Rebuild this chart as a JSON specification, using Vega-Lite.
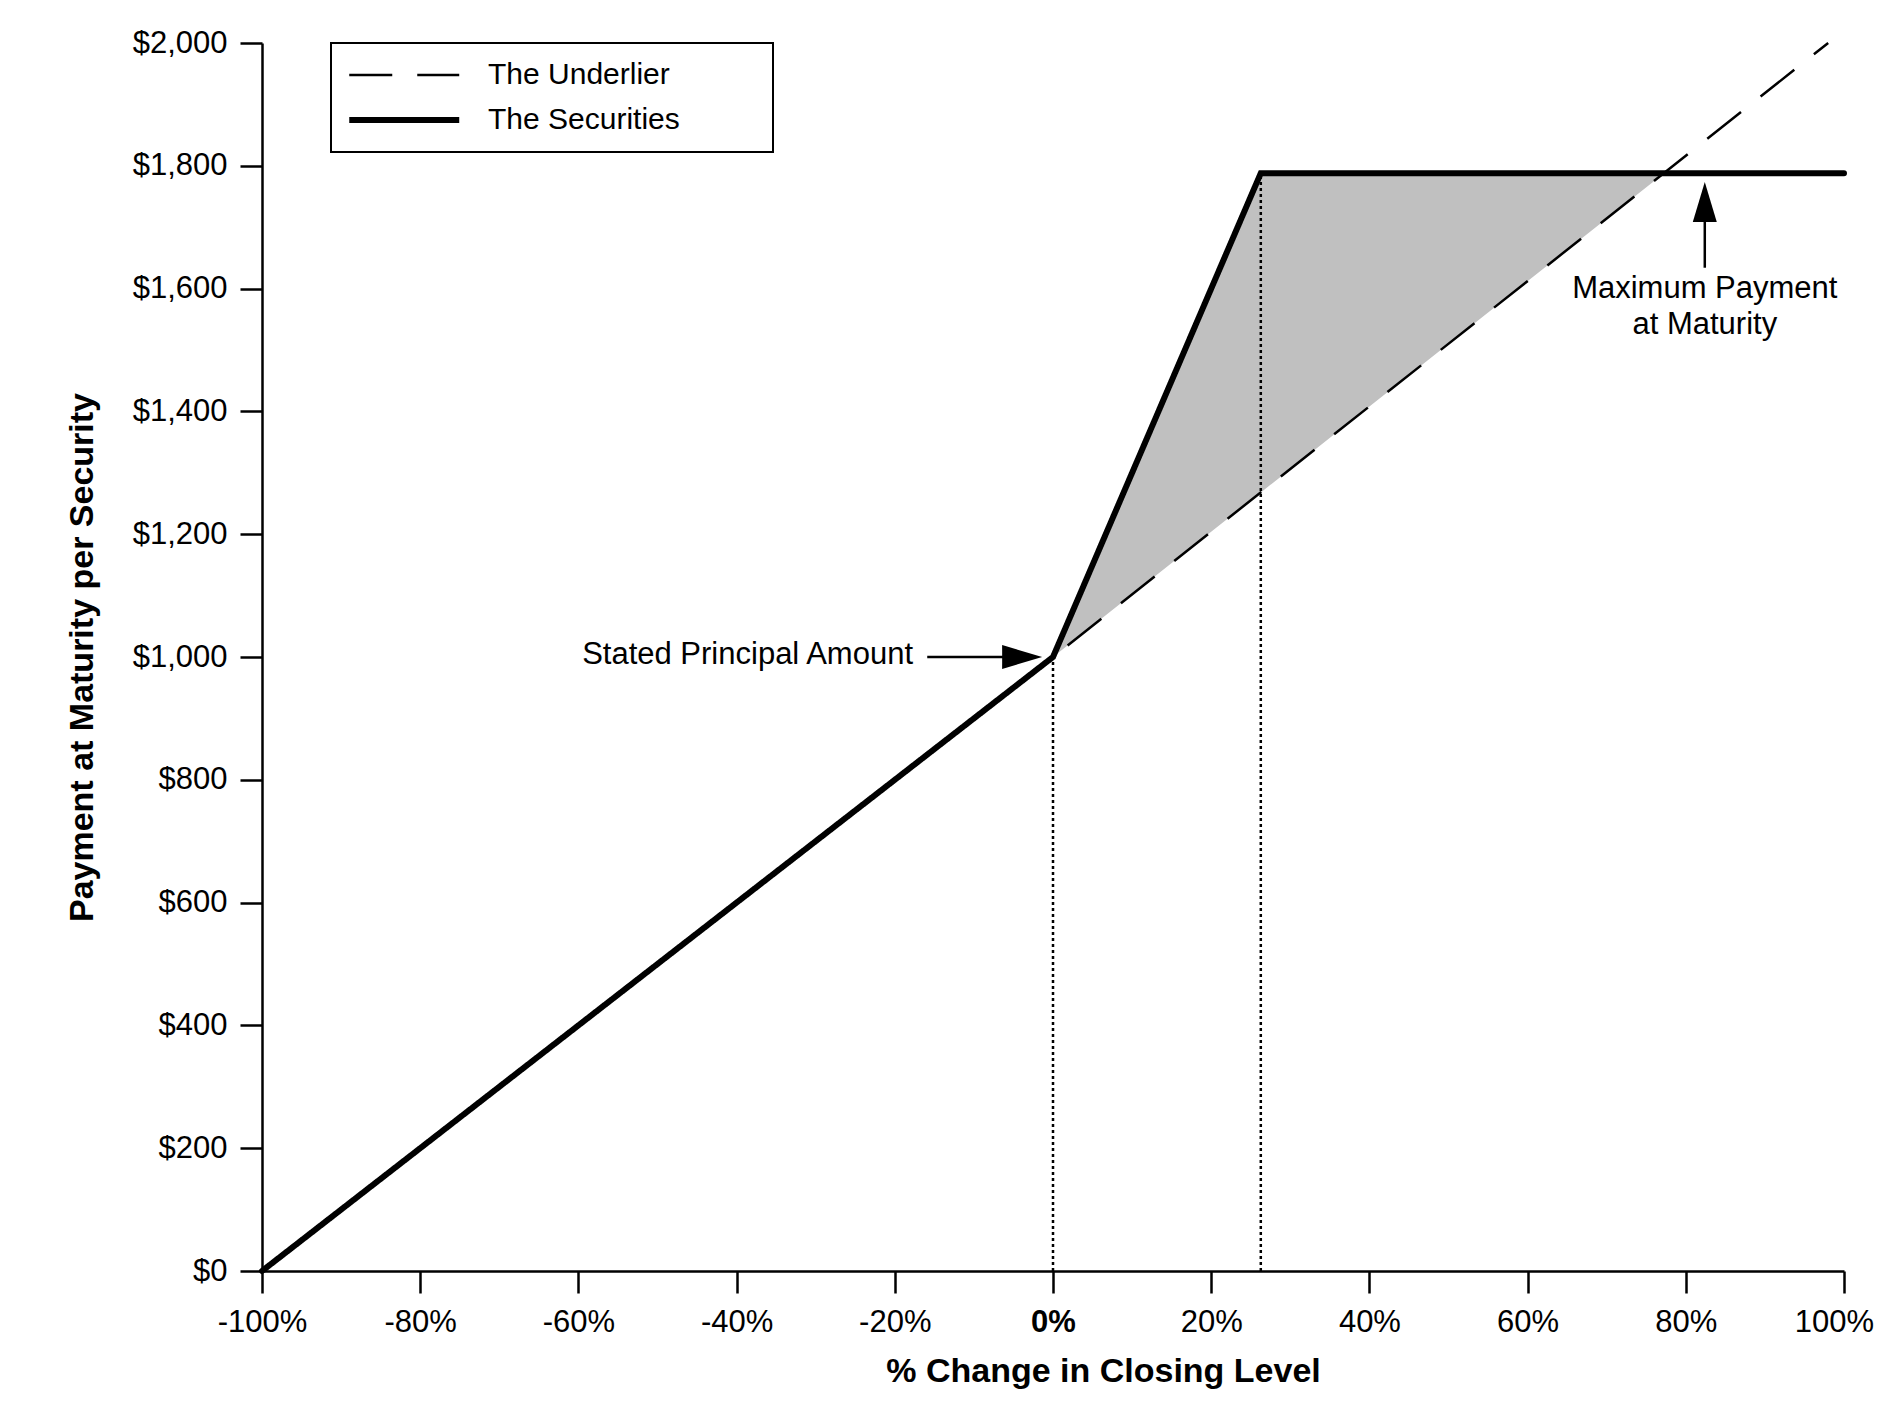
{
  "$schema": "https://vega.github.io/schema/vega-lite/v6.json",
  "width": 1582,
  "height": 1228,
  "autosize": {"type": "none"},
  "padding": {"left": 262, "top": 43, "right": 33, "bottom": 145},
  "background": "white",
  "config": {
    "font": "Liberation Sans",
    "view": {"stroke": null}
  },
  "datasets": {
    "lines": [
      {"series": "The Underlier", "pct": -100, "pay": 0},
      {"series": "The Underlier", "pct": 0, "pay": 1000},
      {"series": "The Underlier", "pct": 98, "pay": 2000},
      {"series": "The Securities", "pct": -100, "pay": 0},
      {"series": "The Securities", "pct": 0, "pay": 1000},
      {"series": "The Securities", "pct": 26.27, "pay": 1788},
      {"series": "The Securities", "pct": 100, "pay": 1788}
    ],
    "shade": [
      {"pct": 0, "top": 1000, "base": 1000},
      {"pct": 26.27, "top": 1788, "base": 1268},
      {"pct": 77.25, "top": 1788, "base": 1788}
    ],
    "guides": [
      {"pct": 0, "top": 1000, "bottom": 0},
      {"pct": 26.27, "top": 1788, "bottom": 0}
    ],
    "arrows": [
      {"pct": -15.9, "pct2": -5, "pay": 1000, "pay2": 1000},
      {"pct": 82.4, "pct2": 82.4, "pay": 1634, "pay2": 1715}
    ],
    "heads": [
      {"pct": -3.9, "pay": 1000, "dir": "right"},
      {"pct": 82.4, "pay": 1741, "dir": "up"}
    ],
    "notes": [
      {"pct": -17.7, "pay": 1004, "label": "Stated Principal Amount", "side": "right"},
      {"pct": 82.4, "pay": 1599, "label": "Maximum Payment", "side": "center"},
      {"pct": 82.4, "pay": 1540, "label": "at Maturity", "side": "center"}
    ]
  },
  "layer": [
    {
      "data": {"name": "shade"},
      "mark": {"type": "area", "color": "#c0c0c0", "opacity": 1},
      "encoding": {
        "x": {
          "field": "pct",
          "type": "quantitative",
          "scale": {"domain": [-100, 100], "nice": false, "zero": false},
          "axis": {
            "title": "% Change in Closing Level",
            "values": [-100, -80, -60, -40, -20, 0, 20, 40, 60, 80, 100],
            "labelExpr": "datum.value + '%'",
            "grid": false,
            "domainColor": "black",
            "domainWidth": 2.5,
            "tickColor": "black",
            "tickWidth": 2.5,
            "tickSize": 22,
            "labelFontSize": 31,
            "labelColor": "black",
            "labelPadding": 14,
            "labelFlush": false,
            "labelOverlap": false,
            "labelFontWeight": {"condition": {"test": "datum.value === 0", "value": "bold"}, "value": "normal"},
            "labelOffset": {"condition": {"test": "datum.value === 100", "value": -10}, "value": 0},
            "titleFontSize": 34,
            "titleFontWeight": "bold",
            "titleColor": "black",
            "titleX": 841,
            "titleY": 100,
            "titleAlign": "center",
            "titleBaseline": "middle"
          }
        },
        "y": {
          "field": "top",
          "type": "quantitative",
          "scale": {"domain": [0, 2000], "nice": false},
          "axis": {
            "title": "Payment at Maturity per Security",
            "values": [0, 200, 400, 600, 800, 1000, 1200, 1400, 1600, 1800, 2000],
            "format": "$,.0f",
            "grid": false,
            "domainColor": "black",
            "domainWidth": 2.5,
            "tickColor": "black",
            "tickWidth": 2.5,
            "tickSize": 22,
            "labelFontSize": 31,
            "labelColor": "black",
            "labelPadding": 13,
            "labelFlush": false,
            "labelOverlap": false,
            "titleFontSize": 34,
            "titleFontWeight": "bold",
            "titleColor": "black",
            "titleX": -180,
            "titleY": 614,
            "titleAngle": -90,
            "titleAlign": "center",
            "titleBaseline": "middle"
          }
        },
        "y2": {"field": "base"}
      }
    },
    {
      "data": {"name": "guides"},
      "mark": {"type": "rule", "color": "black", "strokeWidth": 2.5, "strokeDash": [3, 3]},
      "encoding": {
        "x": {"field": "pct", "type": "quantitative"},
        "y": {"field": "bottom", "type": "quantitative"},
        "y2": {"field": "top"}
      }
    },
    {
      "data": {"name": "lines"},
      "transform": [{"filter": "datum.series === 'The Underlier'"}],
      "mark": {"type": "line", "color": "black", "strokeWidth": 2.5},
      "encoding": {
        "x": {"field": "pct", "type": "quantitative"},
        "y": {"field": "pay", "type": "quantitative"},
        "strokeDash": {
          "field": "series",
          "type": "nominal",
          "scale": {"domain": ["The Underlier", "The Securities"], "range": [[43, 25], [1, 0]]},
          "legend": {
            "title": null,
            "orient": "none",
            "legendX": 69,
            "legendY": 0,
            "padding": 17,
            "strokeColor": "black",
            "symbolType": "M-1,0L7,0M27.7,0",
            "symbolSize": 756,
            "symbolStrokeColor": "black",
            "labelOffset": 110,
            "labelFontSize": 30,
            "labelColor": "black",
            "labelLimit": 600,
            "rowPadding": 15,
            "encode": {
              "legend": {"update": {"strokeWidth": {"value": 2}}},
              "symbols": {"update": {"strokeWidth": {"signal": "datum.value === 'The Securities' ? 6 : 2.5"}, "stroke": {"value": "black"}}}
            }
          }
        }
      }
    },
    {
      "data": {"name": "lines"},
      "transform": [{"filter": "datum.series === 'The Securities'"}],
      "mark": {"type": "line", "color": "black", "strokeWidth": 6, "strokeCap": "round"},
      "encoding": {
        "x": {"field": "pct", "type": "quantitative"},
        "y": {"field": "pay", "type": "quantitative"},
        "strokeDash": {"field": "series", "type": "nominal"}
      }
    },
    {
      "data": {"name": "arrows"},
      "mark": {"type": "rule", "color": "black", "strokeWidth": 2.5},
      "encoding": {
        "x": {"field": "pct", "type": "quantitative"},
        "x2": {"field": "pct2"},
        "y": {"field": "pay", "type": "quantitative"},
        "y2": {"field": "pay2"}
      }
    },
    {
      "data": {"name": "heads"},
      "mark": {"type": "point", "filled": true, "color": "black", "opacity": 1, "size": 1600},
      "encoding": {
        "x": {"field": "pct", "type": "quantitative"},
        "y": {"field": "pay", "type": "quantitative"},
        "shape": {
          "field": "dir",
          "type": "nominal",
          "scale": {"domain": ["right", "up"], "range": ["M-1,-0.6L1,0L-1,0.6Z", "M-0.6,1L0,-1L0.6,1Z"]},
          "legend": null
        }
      }
    },
    {
      "data": {"name": "notes"},
      "transform": [{"filter": "datum.side === 'right'"}],
      "mark": {"type": "text", "align": "right", "baseline": "middle", "fontSize": 31, "color": "black"},
      "encoding": {
        "x": {"field": "pct", "type": "quantitative"},
        "y": {"field": "pay", "type": "quantitative"},
        "text": {"field": "label"}
      }
    },
    {
      "data": {"name": "notes"},
      "transform": [{"filter": "datum.side === 'center'"}],
      "mark": {"type": "text", "align": "center", "baseline": "middle", "fontSize": 31, "color": "black"},
      "encoding": {
        "x": {"field": "pct", "type": "quantitative"},
        "y": {"field": "pay", "type": "quantitative"},
        "text": {"field": "label"}
      }
    }
  ]
}
